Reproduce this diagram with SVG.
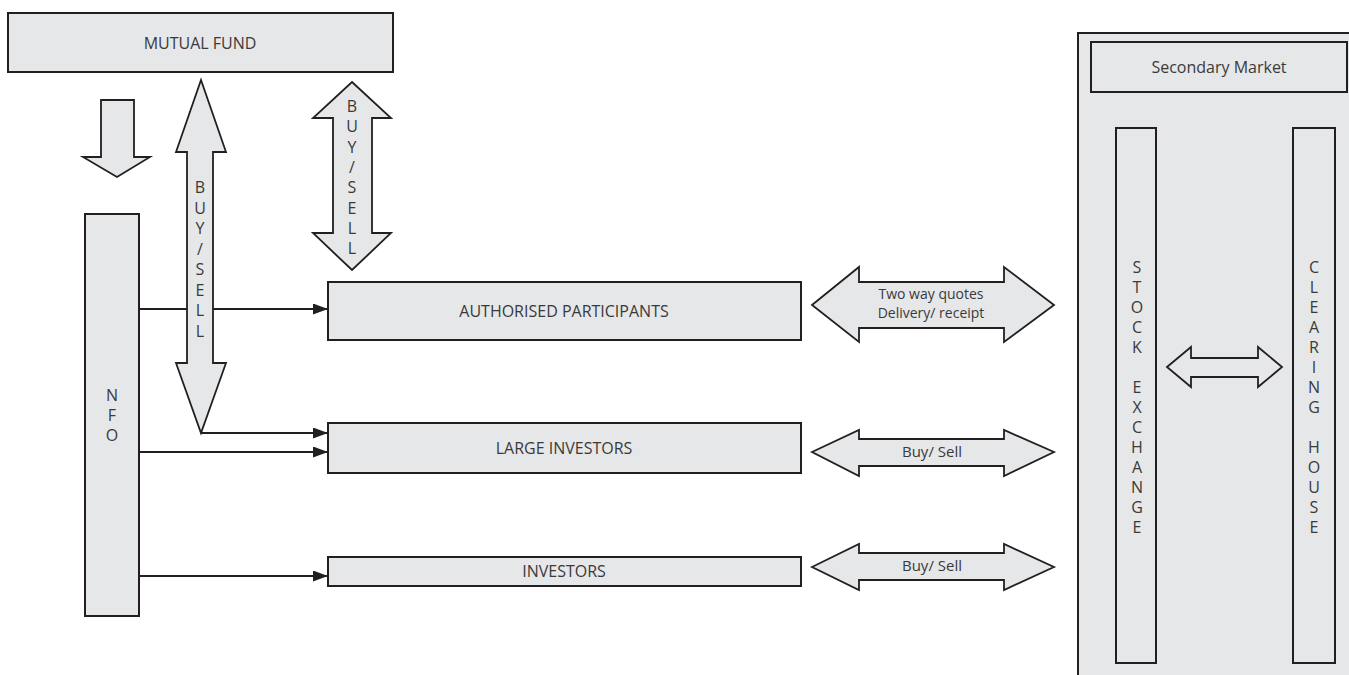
<svg xmlns="http://www.w3.org/2000/svg" width="1349" height="675" viewBox="0 0 1349 675">
<style>
.box{fill:#e6e7e8;stroke:#231f20;stroke-width:2}
.blk{fill:#e6e7e8;stroke:#231f20;stroke-width:1.8;stroke-linejoin:miter}
.con{fill:none;stroke:#231f20;stroke-width:2}
text{font-family:"Open Sans","Liberation Sans",sans-serif;fill:#3a3a3a;font-size:16px;text-anchor:middle}
.sm{font-size:15px}
.two{font-size:14px}
</style>
<defs>
<marker id="ah" markerUnits="userSpaceOnUse" markerWidth="16" markerHeight="12" refX="15" refY="5.5" orient="auto">
<path d="M0,0 L15,5.5 L0,11 z" fill="#231f20"/>
</marker>
</defs>
<rect width="1349" height="675" fill="#ffffff"/>

<g id="connectors">
<line class="con" x1="139" y1="309" x2="328" y2="309" marker-end="url(#ah)"/>
<line class="con" x1="201" y1="433" x2="328" y2="433" marker-end="url(#ah)"/>
<line class="con" x1="139" y1="452" x2="328" y2="452" marker-end="url(#ah)"/>
<line class="con" x1="139" y1="576" x2="328" y2="576" marker-end="url(#ah)"/>
</g>

<g id="mutual-fund">
<rect class="box" x="8" y="13" width="385" height="59"/>
<text x="200" y="49">MUTUAL FUND</text>
</g>

<g id="down-arrow">
<polygon class="blk" points="101,100 134,100 134,157 150,157 117,177 83,157 101,157"/>
</g>

<g id="buysell-left">
<polygon class="blk" points="201,80 226,152 213,152 213,363 226,363 201,433 176,363 187,363 187,152 176,152"/>
<text x="200" y="193">B</text>
<text x="200" y="213.5">U</text>
<text x="200" y="234">Y</text>
<text x="200" y="254.5">/</text>
<text x="200" y="275">S</text>
<text x="200" y="295.5">E</text>
<text x="200" y="316">L</text>
<text x="200" y="336.5">L</text>
</g>

<g id="buysell-right">
<polygon class="blk" points="352,82 391,118 372,118 372,233 391,233 352,270 313,233 333,233 333,118 313,118"/>
<text x="352" y="112">B</text>
<text x="352" y="132.3">U</text>
<text x="352" y="152.6">Y</text>
<text x="352" y="172.9">/</text>
<text x="352" y="193.2">S</text>
<text x="352" y="213.5">E</text>
<text x="352" y="233.8">L</text>
<text x="352" y="254">L</text>
</g>

<g id="nfo">
<rect class="box" x="85" y="214" width="54" height="402"/>
<text x="112" y="401">N</text>
<text x="112" y="421">F</text>
<text x="112" y="441">O</text>
</g>

<g id="authorised-participants">
<rect class="box" x="328" y="282" width="473" height="58"/>
<text x="564" y="317">AUTHORISED PARTICIPANTS</text>
</g>

<g id="large-investors">
<rect class="box" x="328" y="423" width="473" height="50"/>
<text x="564" y="454">LARGE INVESTORS</text>
</g>

<g id="investors">
<rect class="box" x="328" y="557" width="473" height="29"/>
<text x="564" y="577">INVESTORS</text>
</g>

<g id="two-way-arrow">
<polygon class="blk" points="812,305 859,267 859,282 1004,282 1004,267 1054,305 1004,342 1004,328 859,328 859,342"/>
<text class="two" x="931" y="299">Two way quotes</text>
<text class="two" x="931" y="318">Delivery/ receipt</text>
</g>

<g id="buysell-large">
<polygon class="blk" points="812,452 859,430 859,439 1004,439 1004,430 1054,452 1004,476 1004,466 859,466 859,476"/>
<text class="sm" x="932" y="457">Buy/ Sell</text>
</g>

<g id="buysell-investors">
<polygon class="blk" points="812,567 859,544 859,553 1004,553 1004,544 1054,567 1004,590 1004,580 859,580 859,590"/>
<text class="sm" x="932" y="571">Buy/ Sell</text>
</g>

<g id="secondary-market">
<rect class="box" x="1078" y="33" width="290" height="660"/>
<rect class="box" x="1091" y="42" width="256" height="50"/>
<text x="1219" y="73">Secondary Market</text>
</g>

<g id="stock-exchange">
<rect class="box" x="1116" y="128" width="40" height="535"/>
<text x="1137" y="273">S</text>
<text x="1137" y="293">T</text>
<text x="1137" y="313">O</text>
<text x="1137" y="333">C</text>
<text x="1137" y="353">K</text>
<text x="1137" y="393">E</text>
<text x="1137" y="413">X</text>
<text x="1137" y="433">C</text>
<text x="1137" y="453">H</text>
<text x="1137" y="473">A</text>
<text x="1137" y="493">N</text>
<text x="1137" y="513">G</text>
<text x="1137" y="533">E</text>
</g>

<g id="clearing-house">
<rect class="box" x="1293" y="128" width="42" height="535"/>
<text x="1314" y="273">C</text>
<text x="1314" y="293">L</text>
<text x="1314" y="313">E</text>
<text x="1314" y="333">A</text>
<text x="1314" y="353">R</text>
<text x="1314" y="373">I</text>
<text x="1314" y="393">N</text>
<text x="1314" y="413">G</text>
<text x="1314" y="453">H</text>
<text x="1314" y="473">O</text>
<text x="1314" y="493">U</text>
<text x="1314" y="513">S</text>
<text x="1314" y="533">E</text>
</g>

<g id="exchange-clearing-arrow">
<polygon class="blk" points="1167,367 1191,347 1191,358 1258,358 1258,347 1282,367 1258,387 1258,377 1191,377 1191,387"/>
</g>
</svg>
